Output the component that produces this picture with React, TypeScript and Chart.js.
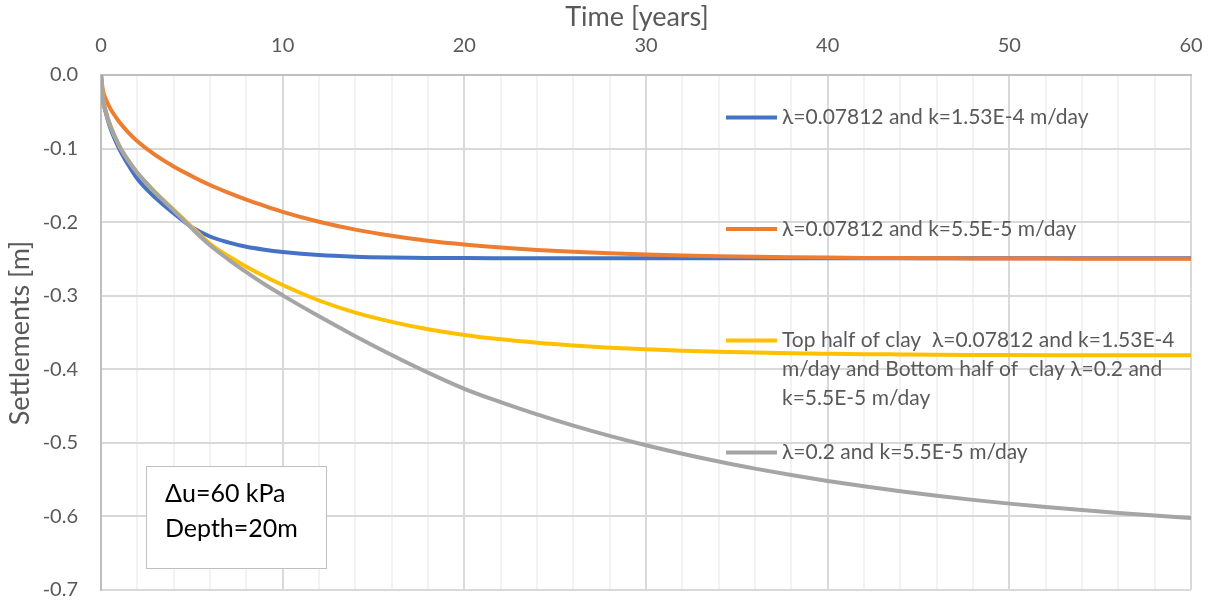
import React, { useEffect, useRef } from "react";
import { Chart, registerables } from "chart.js";

Chart.register(...registerables);

// ---- data ----
const years = [0, 0.1, 0.25, 0.5, 1, 1.5, 2, 3, 4, 5, 6, 7, 8, 9, 10, 12, 14, 16, 18, 20, 22, 24, 26, 28, 30, 32, 34, 36, 38, 40, 42, 44, 46, 48, 50, 52, 54, 56, 58, 60];

const settleBlue = [0, -0.032, -0.05, -0.071, -0.1, -0.122, -0.141, -0.167, -0.188, -0.207, -0.2195, -0.2275, -0.2335, -0.2375, -0.2405, -0.2447, -0.2469, -0.248, -0.2486, -0.2489, -0.249, -0.249, -0.249, -0.249, -0.249, -0.249, -0.249, -0.249, -0.249, -0.249, -0.249, -0.249, -0.249, -0.249, -0.249, -0.249, -0.249, -0.249, -0.249, -0.249];

const settleOrange = [0, -0.02, -0.032, -0.045, -0.0635, -0.078, -0.09, -0.109, -0.1245, -0.1375, -0.1495, -0.16, -0.1695, -0.178, -0.186, -0.1995, -0.2102, -0.2186, -0.2252, -0.2304, -0.2345, -0.2378, -0.2404, -0.2424, -0.244, -0.2453, -0.2463, -0.2471, -0.2477, -0.2482, -0.2486, -0.2489, -0.2491, -0.2493, -0.2494, -0.2495, -0.2496, -0.2497, -0.2497, -0.2498];

const settleYellow = [0, -0.031, -0.048, -0.068, -0.096, -0.116, -0.133, -0.16, -0.183, -0.2065, -0.2295, -0.246, -0.2605, -0.2735, -0.2855, -0.3065, -0.323, -0.3355, -0.3455, -0.3533, -0.3593, -0.364, -0.3677, -0.3706, -0.3729, -0.3747, -0.3761, -0.3772, -0.3781, -0.3788, -0.3794, -0.3798, -0.3802, -0.3805, -0.3807, -0.3809, -0.381, -0.381, -0.381, -0.381];

const settleGray = [0, -0.031, -0.048, -0.068, -0.096, -0.116, -0.133, -0.16, -0.184, -0.2085, -0.2315, -0.2505, -0.268, -0.2845, -0.2995, -0.328, -0.355, -0.3805, -0.4045, -0.4265, -0.4447, -0.4614, -0.4766, -0.4905, -0.5032, -0.5148, -0.5254, -0.535, -0.5438, -0.5518, -0.5591, -0.5658, -0.5719, -0.5775, -0.5826, -0.5872, -0.5914, -0.5953, -0.5988, -0.602];

const seriesNames = [
  "λ=0.07812 and k=1.53E-4 m/day",
  "λ=0.07812 and k=5.5E-5 m/day",
  "Top half of clay  λ=0.07812 and k=1.53E-4 m/day and Bottom half of  clay λ=0.2 and k=5.5E-5 m/day",
  "λ=0.2 and k=5.5E-5 m/day",
];

const legendLines = [
  ["λ=0.07812 and k=1.53E-4 m/day"],
  ["λ=0.07812 and k=5.5E-5 m/day"],
  ["Top half of clay  λ=0.07812 and k=1.53E-4", "m/day and Bottom half of  clay λ=0.2 and", "k=5.5E-5 m/day"],
  ["λ=0.2 and k=5.5E-5 m/day"],
];

const xTitle = "Time [years]";
const yTitle = "Settlements [m]";
const noteLines = ["Δu=60 kPa", "Depth=20m"];

const colors = ["#4472C4", "#ED7D31", "#FFC000", "#A5A5A5"];
const FONT = 'Lato, "Open Sans", sans-serif';
const TEXT = "#595959";

const toPoints = (ys: number[]) => years.map((x, i) => ({ x, y: ys[i] }));

const overlayPlugin = {
  id: "overlay",
  afterDraw(chart: any) {
    const ctx = chart.ctx as CanvasRenderingContext2D;
    ctx.save();
    // axis titles
    ctx.fillStyle = TEXT;
    ctx.font = `27px ${FONT}`;
    ctx.textAlign = "center";
    ctx.textBaseline = "middle";
    ctx.fillText(xTitle, 637, 17);
    ctx.save();
    ctx.translate(20, 333);
    ctx.rotate(-Math.PI / 2);
    ctx.fillText(yTitle, 0, 0);
    ctx.restore();

    // legend
    ctx.font = `21px ${FONT}`;
    const legendY = [117.5, 229, 340.5, 452.5];
    const lineGap = 28.7;
    legendLines.forEach((lines, i) => {
      const y = legendY[i];
      ctx.strokeStyle = colors[i];
      ctx.lineWidth = 4;
      ctx.beginPath();
      ctx.moveTo(726, y);
      ctx.lineTo(777, y);
      ctx.stroke();
      ctx.fillStyle = TEXT;
      ctx.textAlign = "left";
      lines.forEach((t, j) => ctx.fillText(t, 782, y + j * lineGap));
    });

    // note box
    ctx.fillStyle = "#FFFFFF";
    ctx.fillRect(146, 466, 180, 102);
    ctx.strokeStyle = "#BFBFBF";
    ctx.lineWidth = 1;
    ctx.strokeRect(146.5, 466.5, 180, 102);
    ctx.fillStyle = "#000000";
    ctx.font = `25px ${FONT}`;
    ctx.textAlign = "left";
    ctx.fillText(noteLines[0], 165, 494);
    ctx.fillText(noteLines[1], 165, 529);
    ctx.restore();
  },
};

export default function App() {
  const ref = useRef<HTMLCanvasElement | null>(null);

  useEffect(() => {
    const canvas = ref.current;
    if (!canvas) return;
    const allSeries = [settleBlue, settleOrange, settleYellow, settleGray];
    const chart = new Chart(canvas, {
      type: "line",
      data: {
        datasets: allSeries.map((s, i) => ({
          label: seriesNames[i],
          data: toPoints(s),
          borderColor: colors[i],
          backgroundColor: colors[i],
          borderWidth: 4,
          pointRadius: 0,
          fill: false,
          cubicInterpolationMode: "monotone" as const,
          order: 3 - i,
        })),
      },
      options: {
        animation: false,
        responsive: false,
        devicePixelRatio: 1,
        layout: { padding: { left: 0, right: 22, top: 0, bottom: 10 }, autoPadding: false },
        plugins: { legend: { display: false }, tooltip: { enabled: false }, title: { display: false } },
        scales: {
          x: {
            type: "linear",
            position: "top",
            min: 0,
            max: 60,
            afterFit: (s: any) => {
              s.height = 75;
              s.paddingLeft = 0;
              s.paddingRight = 0;
            },
            border: { display: true, color: "#BFBFBF", width: 2 },
            grid: {
              drawTicks: false,
              lineWidth: 2,
              color: (c: any) => {
                const v = c.tick ? c.tick.value : 0;
                if (v === 0) return "#BFBFBF";
                return v % 10 === 0 ? "#D9D9D9" : "#F2F2F2";
              },
            },
            ticks: {
              stepSize: 2,
              autoSkip: false,
              maxRotation: 0,
              padding: 17,
              color: TEXT,
              font: { family: FONT, size: 20, lineHeight: 1.2 },
              callback: (v: any) => (Number(v) % 10 === 0 ? String(v) : ""),
            },
          },
          y: {
            type: "linear",
            min: -0.7,
            max: 0,
            afterFit: (s: any) => {
              s.width = 101;
              s.paddingTop = 0;
              s.paddingBottom = 0;
            },
            border: { display: true, color: "#BFBFBF", width: 2 },
            grid: {
              drawTicks: false,
              lineWidth: 2,
              color: (c: any) => (c.tick && Math.abs(c.tick.value) < 1e-9 ? "#BFBFBF" : "#D9D9D9"),
            },
            ticks: {
              stepSize: 0.1,
              padding: 23,
              color: TEXT,
              font: { family: FONT, size: 20, lineHeight: 1 },
              callback: (v: any) => Number(v).toFixed(1),
            },
          },
        },
      },
      plugins: [overlayPlugin],
    });
    return () => chart.destroy();
  }, []);

  return (
    <div style={{ position: "absolute", left: 0, top: 0, width: 1213, height: 600, background: "#fff" }}>
      <canvas ref={ref} width={1213} height={600} style={{ display: "block" }} />
    </div>
  );
}
